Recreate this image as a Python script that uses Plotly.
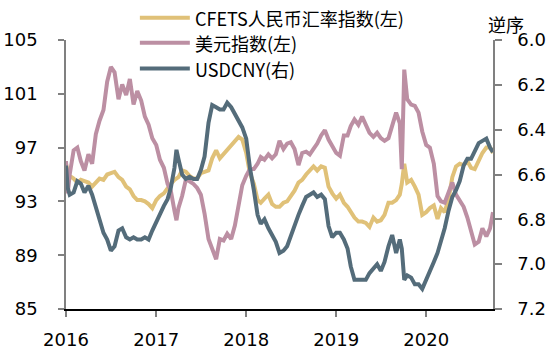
import plotly.graph_objects as go

series_names = ["CFETS人民币汇率指数(左)", "美元指数(左)", "USDCNY(右)"]
colors = ["#E0C178", "#BC8FA3", "#546C7A"]

dates = [
    "2016-01-01", "2016-01-08", "2016-01-16", "2016-02-01", "2016-02-16", "2016-03-01", "2016-03-16",
    "2016-04-01", "2016-04-16", "2016-05-01", "2016-05-16", "2016-06-01", "2016-06-16", "2016-07-01",
    "2016-07-16", "2016-08-01", "2016-08-16", "2016-09-01", "2016-09-16", "2016-10-01", "2016-10-16",
    "2016-11-01", "2016-11-16", "2016-12-01", "2016-12-16",
    "2017-01-01", "2017-01-16", "2017-02-01", "2017-02-16", "2017-03-01", "2017-03-16", "2017-03-24",
    "2017-04-01", "2017-04-16", "2017-05-01", "2017-05-16", "2017-06-01", "2017-06-16", "2017-07-01",
    "2017-07-16", "2017-08-01", "2017-08-16", "2017-09-01", "2017-09-16", "2017-10-01", "2017-10-16",
    "2017-11-01", "2017-11-16", "2017-12-01", "2017-12-16",
    "2018-01-01", "2018-01-16", "2018-02-01", "2018-02-16", "2018-03-01", "2018-03-16", "2018-04-01",
    "2018-04-16", "2018-05-01", "2018-05-16", "2018-06-01", "2018-06-16", "2018-07-01", "2018-07-16",
    "2018-08-01", "2018-08-16", "2018-09-01", "2018-09-16", "2018-10-01", "2018-10-16", "2018-11-01",
    "2018-11-16", "2018-12-01", "2018-12-16",
    "2019-01-01", "2019-01-16", "2019-02-01", "2019-02-16", "2019-03-01", "2019-03-16", "2019-04-01",
    "2019-04-16", "2019-05-01", "2019-05-16", "2019-06-01", "2019-06-16", "2019-07-01", "2019-07-16",
    "2019-08-01", "2019-08-16", "2019-09-01", "2019-09-16", "2019-09-24", "2019-10-01", "2019-10-04",
    "2019-10-16", "2019-11-01", "2019-11-16", "2019-12-01", "2019-12-16",
    "2020-01-01", "2020-01-16", "2020-02-01", "2020-02-16", "2020-03-01", "2020-03-16", "2020-04-01",
    "2020-04-16", "2020-05-01", "2020-05-16", "2020-06-01", "2020-06-16", "2020-07-01", "2020-07-16",
    "2020-08-01", "2020-08-16", "2020-09-01", "2020-09-16", "2020-09-28",
]

cfets = [
    95.8, 95.2, 94.9, 94.7, 94.4, 94.6, 94.5, 94.4, 94.1, 94.4, 94.7, 94.6, 95.0, 95.1,
    95.2, 94.8, 94.6, 94.1, 93.9, 93.4, 93.1, 93.1, 93.0, 92.8, 92.5,
    93.1, 93.4, 93.6, 94.0, 94.3, 94.6, 94.7, 94.8, 95.3, 95.2, 94.9, 94.7, 94.7, 95.1,
    95.2, 95.3, 96.2, 96.8, 96.2, 96.5, 96.8, 97.1, 97.4, 97.8, 97.6,
    96.6, 95.1, 94.3, 93.1, 92.9, 93.2, 93.5, 92.8, 92.6, 92.6, 92.9, 93.0, 93.4, 93.8,
    94.4, 94.6, 95.0, 95.3, 95.6, 95.3, 95.6, 95.5, 94.1, 93.6,
    93.2, 93.5, 92.9, 92.6, 92.2, 91.8, 91.5, 91.5, 91.4, 91.1, 91.8, 91.5, 91.6, 92.0,
    92.9, 92.9, 93.1, 93.5, 94.3, 95.5, 95.8, 94.4, 94.6, 94.1, 93.5, 92.0,
    92.2, 92.5, 92.7, 91.7, 92.5, 92.2, 93.2, 94.8, 95.6, 95.8, 95.7, 96.0, 95.5, 95.4,
    96.0, 96.6, 97.0, 97.0, 96.6,
]

dxy = [
    96.0, 93.6, 95.0, 96.8, 97.0, 96.0, 95.3, 96.5, 95.8, 98.0, 99.0, 99.8, 101.9, 103.0,
    102.6, 100.6, 101.7, 100.9, 102.1, 100.2, 101.2, 100.5, 99.3, 98.7, 97.7,
    97.2, 96.1, 95.5, 94.3, 93.8, 92.3, 91.6, 92.5, 93.4, 94.6, 94.5, 94.3, 94.0, 93.5,
    92.1, 90.2, 89.4, 88.7, 90.2, 90.1, 90.6, 90.2, 91.2, 92.7, 94.2,
    94.9, 95.4, 95.4, 95.8, 96.3, 96.1, 96.5, 96.2, 96.5, 97.5, 96.9, 97.3, 97.4, 96.9,
    95.7, 96.6, 96.7, 96.5, 96.9, 97.3, 97.9, 98.3, 97.6, 97.1,
    96.6, 96.4, 97.9, 97.9, 98.6, 99.1, 98.7, 99.3, 98.6, 98.1, 97.8, 98.1, 97.7, 97.5,
    97.7, 98.6, 99.6, 98.8, 95.4, 100.5, 102.8, 100.6, 100.2, 100.1, 99.6, 98.2,
    97.2, 97.0, 95.8, 93.4, 93.0, 92.9, 93.6, 94.4, 93.5, 93.1, 92.6, 91.8, 90.7, 89.8,
    90.0, 91.0, 90.4, 91.0, 92.2,
]

usdcny = [
    6.56, 6.66, 6.69, 6.68, 6.63, 6.64, 6.68, 6.65, 6.69, 6.75, 6.80, 6.86, 6.89, 6.94,
    6.92, 6.85, 6.84, 6.88, 6.89, 6.88, 6.89, 6.89, 6.88, 6.89, 6.85,
    6.81, 6.78, 6.74, 6.71, 6.66, 6.57, 6.49, 6.53, 6.60, 6.62, 6.61, 6.62, 6.62, 6.58,
    6.52, 6.37, 6.29, 6.30, 6.31, 6.31, 6.28, 6.30, 6.33, 6.36, 6.39,
    6.44, 6.57, 6.67, 6.78, 6.82, 6.80, 6.84, 6.87, 6.90, 6.95, 6.94, 6.92, 6.87, 6.82,
    6.78, 6.74, 6.70, 6.69, 6.68, 6.70, 6.69, 6.71, 6.83, 6.88,
    6.86, 6.86, 6.89, 6.93, 7.01, 7.07, 7.07, 7.07, 7.07, 7.04, 7.02, 7.00, 7.03, 6.99,
    6.92, 6.87, 6.95, 6.89, 6.93, 7.02, 7.07, 7.05, 7.06, 7.09, 7.09, 7.11,
    7.07, 7.04, 6.99, 6.95, 6.90, 6.84, 6.76, 6.70, 6.67, 6.63, 6.56, 6.53, 6.53, 6.50,
    6.46, 6.45, 6.44, 6.48, 6.50,
]

left_ticks = [85, 89, 93, 97, 101, 105]
right_ticks = [6.0, 6.2, 6.4, 6.6, 6.8, 7.0, 7.2]
year_ticks = ["2016-01-01", "2017-01-01", "2018-01-01", "2019-01-01", "2020-01-01"]
year_labels = ["2016", "2017", "2018", "2019", "2020"]

FONT = "DejaVu Sans"
CJK = "Noto Sans CJK SC"

fig = go.Figure()
fig.add_trace(go.Scatter(x=dates, y=cfets, mode="lines", name=series_names[0],
                         line=dict(color=colors[0], width=4), yaxis="y"))
fig.add_trace(go.Scatter(x=dates, y=dxy, mode="lines", name=series_names[1],
                         line=dict(color=colors[1], width=4), yaxis="y"))
fig.add_trace(go.Scatter(x=dates, y=usdcny, mode="lines", name=series_names[2],
                         line=dict(color=colors[2], width=4), yaxis="y2"))

# custom legend (long line samples)
legend_y = [1.083, 0.990, 0.894]
shapes = []
annotations = []
for name, col, ly in zip(series_names, colors, legend_y):
    shapes.append(dict(type="line", xref="paper", yref="paper", x0=0.173, x1=0.290,
                       y0=ly, y1=ly, line=dict(color=col, width=4)))
    annotations.append(dict(text=name, xref="paper", yref="paper", x=0.298, y=ly,
                            xanchor="left", yanchor="middle", showarrow=False,
                            font=dict(family=CJK, size=18, color="#000000")))
annotations.append(dict(text="逆序", xref="paper", yref="paper", x=1.03, y=1.06,
                        xanchor="center", yanchor="middle", showarrow=False,
                        font=dict(family=CJK, size=18, color="#000000")))

fig.update_layout(
    width=554, height=354,
    margin=dict(l=66, r=61, t=40, b=45),
    paper_bgcolor="white", plot_bgcolor="white",
    showlegend=False,
    shapes=shapes, annotations=annotations,
    xaxis=dict(type="date", range=["2016-01-01", "2020-09-28"],
               tickvals=year_ticks, ticktext=year_labels,
               showgrid=False, zeroline=False, automargin=False,
               showline=True, linecolor="#000000", linewidth=1.5,
               ticks="outside", ticklen=6, tickcolor="#808080", tickwidth=1.5,
               ticklabelstandoff=8,
               tickfont=dict(family=FONT, size=18, color="#000000")),
    yaxis=dict(range=[85, 105], tickvals=left_ticks,
               showgrid=False, zeroline=False, automargin=False,
               showline=True, linecolor="#808080", linewidth=1.5,
               ticks="outside", ticklen=6, tickcolor="#808080", tickwidth=1.5,
               ticklabelstandoff=17,
               tickfont=dict(family=FONT, size=18, color="#000000")),
    yaxis2=dict(range=[7.2, 6.0], tickvals=right_ticks, tickformat=".1f",
                overlaying="y", side="right",
                showgrid=False, zeroline=False, automargin=False,
                showline=True, linecolor="#808080", linewidth=1.5,
                ticks="outside", ticklen=7, tickcolor="#808080", tickwidth=1.5,
                ticklabelstandoff=12,
                tickfont=dict(family=FONT, size=18, color="#000000")),
)

fig.write_html("out.html")
